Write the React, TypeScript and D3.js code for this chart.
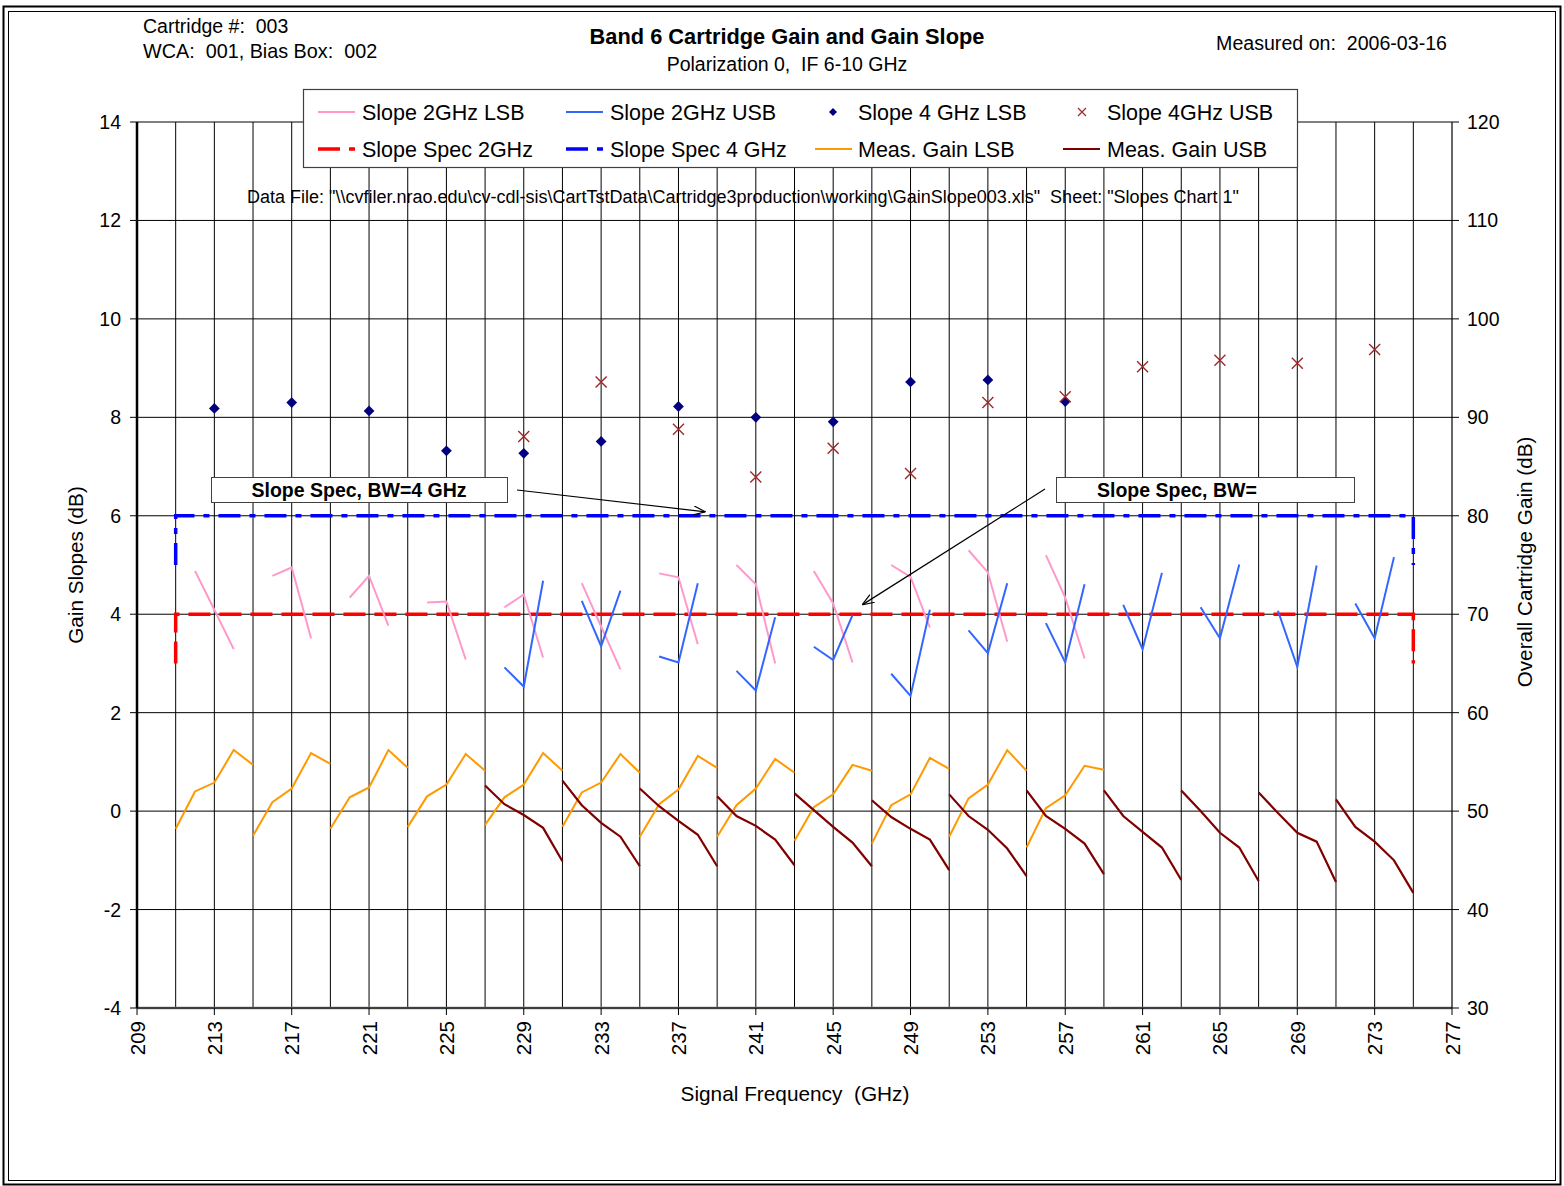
import React from 'react';
import * as d3 from 'd3';

// LO settings (GHz), one measured group per LO
const loFreqs = [221, 225, 229, 233, 237, 241, 245, 249, 253, 257, 261, 265];

// offsets of the plotted points from the LO (GHz)
const gainLsbOffsets = [-10, -9, -8, -7, -6];
const gainUsbOffsets = [6, 7, 8, 9, 10];
const slopeLsbOffsets = [-9, -8, -7];
const slopeUsbOffsets = [7, 8, 9];
const slope4LsbOffset = -8;
const slope4UsbOffset = 8;

// measured gain (dB, right axis)
const gainLsb = [
  [48.2, 52.0, 52.9, 56.2, 54.7],
  [47.5, 50.9, 52.3, 55.9, 54.8],
  [48.2, 51.4, 52.4, 56.2, 54.4],
  [48.4, 51.5, 52.7, 55.8, 54.1],
  [48.6, 51.4, 52.7, 55.9, 54.1],
  [48.4, 51.9, 52.9, 55.8, 53.9],
  [47.4, 50.7, 52.2, 55.6, 54.4],
  [47.4, 50.6, 52.3, 55.3, 53.9],
  [47.0, 50.4, 51.7, 54.7, 54.1],
  [46.7, 50.6, 51.7, 55.4, 54.3],
  [47.4, 51.3, 52.7, 56.2, 54.1],
  [46.3, 50.3, 51.6, 54.6, 54.2],
];
const gainUsb = [
  [52.6, 50.7, 49.6, 48.3, 44.9],
  [53.1, 50.6, 48.8, 47.4, 44.4],
  [52.3, 50.5, 49.0, 47.6, 44.4],
  [51.5, 49.5, 48.5, 47.1, 44.5],
  [51.8, 50.1, 48.4, 46.8, 44.4],
  [51.1, 49.4, 48.2, 47.1, 44.0],
  [51.7, 49.5, 48.1, 46.2, 43.4],
  [52.1, 49.5, 48.2, 46.7, 43.6],
  [52.1, 49.5, 47.9, 46.3, 43.0],
  [52.1, 50.0, 47.8, 46.3, 42.9],
  [51.9, 49.8, 47.8, 46.9, 42.8],
  [51.2, 48.4, 46.9, 45.0, 41.7],
];

// gain slopes (dB, left axis)
const slope2Lsb = [
  [4.88, 4.09, 3.29],
  [4.78, 4.95, 3.51],
  [4.34, 4.78, 3.77],
  [4.24, 4.26, 3.08],
  [4.14, 4.40, 3.12],
  [4.63, 3.75, 2.88],
  [4.83, 4.75, 3.39],
  [5.00, 4.61, 3.00],
  [4.88, 4.22, 3.02],
  [5.00, 4.76, 3.73],
  [5.30, 4.85, 3.44],
  [5.20, 4.34, 3.10],
];
const slope2Usb = [
  [2.92, 2.53, 4.68],
  [4.27, 3.35, 4.48],
  [3.14, 3.02, 4.63],
  [2.85, 2.45, 3.94],
  [3.34, 3.07, 3.98],
  [2.79, 2.34, 4.09],
  [3.67, 3.21, 4.63],
  [3.82, 3.02, 4.61],
  [4.19, 3.29, 4.84],
  [4.14, 3.51, 5.01],
  [4.07, 2.93, 4.99],
  [4.22, 3.51, 5.16],
];
const slope4Lsb = [8.18, 8.30, 8.13, 7.32, 7.27, 7.51, 8.22, 8.00, 7.91, 8.72, 8.76, 8.32];
const slope4Usb = [7.61, 8.72, 7.76, 6.79, 7.37, 6.86, 8.30, 8.42, 9.03, 9.16, 9.10, 9.38];

// spec limits
const specFreqs = [211, 211, 275, 275];
const spec2GHz = [3, 4, 4, 3];
const spec4GHz = [5, 6, 6, 5];

// axes
const xTicks = [209, 213, 217, 221, 225, 229, 233, 237, 241, 245, 249, 253, 257, 261, 265, 269, 273, 277];
const leftTicks = [-4, -2, 0, 2, 4, 6, 8, 10, 12, 14];
const rightTicks = [30, 40, 50, 60, 70, 80, 90, 100, 110, 120];

// annotation arrow tips (freq, slope dB)
const arrowTips = [[238.4, 6.08], [246.5, 4.19]];

const W = 1564;
const H = 1186;
const FONT = '"Liberation Sans", Arial, Helvetica, sans-serif';

const x = d3.scaleLinear().domain([209, 277]).range([137, 1452]);
const yL = d3.scaleLinear().domain([-4, 14]).range([1008, 122]);
const yR = d3.scaleLinear().domain([30, 120]).range([1008, 122]);

const C = {
  pink: '#FF99CC',
  blue: '#3366FF',
  navy: '#000080',
  xred: '#A0282A',
  specRed: '#FF0000',
  specBlue: '#0000FF',
  orange: '#FF9900',
  maroon: '#800000',
};

const diamond = d3.symbol(d3.symbolSquare, 58)();
const diamondSmall = d3.symbol(d3.symbolSquare, 32)();
const xMark = 'M-5.5,-5.5L5.5,5.5M-5.5,5.5L5.5,-5.5';
const xMarkSmall = 'M-4,-4L4,4M-4,4L4,-4';

export default function App() {
  const lineL = d3.line<number[]>().x(d => x(d[0])).y(d => yL(d[1]));
  const lineR = d3.line<number[]>().x(d => x(d[0])).y(d => yR(d[1]));

  const lsbGainSegs = loFreqs.map((lo, i) => gainLsbOffsets.map((o, j) => [lo + o, gainLsb[i][j]]));
  const usbGainSegs = loFreqs.map((lo, i) => gainUsbOffsets.map((o, j) => [lo + o, gainUsb[i][j]]));
  const lsbSlopeSegs = loFreqs.map((lo, i) => slopeLsbOffsets.map((o, j) => [lo + o, slope2Lsb[i][j]]));
  const usbSlopeSegs = loFreqs.map((lo, i) => slopeUsbOffsets.map((o, j) => [lo + o, slope2Usb[i][j]]));
  const spec2 = specFreqs.map((f, i) => [f, spec2GHz[i]]);
  const spec4 = specFreqs.map((f, i) => [f, spec4GHz[i]]);

  const gridX = d3.range(211, 277, 2);
  const pre = { whiteSpace: 'pre' as const };

  const legendItems = [
    { label: 'Slope 2GHz LSB', col: 0, row: 0, kind: 'line', color: C.pink, w: 2 },
    { label: 'Slope 2GHz USB', col: 1, row: 0, kind: 'line', color: C.blue, w: 2 },
    { label: 'Slope 4 GHz LSB', col: 2, row: 0, kind: 'diamond', color: C.navy },
    { label: 'Slope 4GHz USB', col: 3, row: 0, kind: 'x', color: C.xred },
    { label: 'Slope Spec 2GHz', col: 0, row: 1, kind: 'line', color: C.specRed, w: 3.5, dash: '22,9' },
    { label: 'Slope Spec 4 GHz', col: 1, row: 1, kind: 'line', color: C.specBlue, w: 3.5, dash: '22,9,6,9' },
    { label: 'Meas. Gain LSB', col: 2, row: 1, kind: 'line', color: C.orange, w: 2 },
    { label: 'Meas. Gain USB', col: 3, row: 1, kind: 'line', color: C.maroon, w: 2 },
  ];
  const colSample = [318, 566, 815, 1063];
  const colText = [362, 610, 858, 1107];
  const rowY = [112, 149];

  return (
    <div style={{ position: 'absolute', left: 0, top: 0 }}>
      <svg width={W} height={H} style={{ display: 'block', background: '#fff' }} fontFamily={FONT}>
        <defs>
          <marker id="arr" viewBox="0 0 12 10" refX="12" refY="5" markerWidth="12" markerHeight="10"
            markerUnits="userSpaceOnUse" orient="auto">
            <path d="M0,0.5L12,5L0,9.5" fill="none" stroke="#000" strokeWidth={1.2} />
          </marker>
        </defs>
        <rect width={W} height={H} fill="#fff" />

        {/* outer frame */}
        <rect x={3.5} y={6.5} width={1557} height={1178} fill="none" stroke="#000" strokeWidth={2} />
        <rect x={8.5} y={11.5} width={1547} height={1169} fill="none" stroke="#000" strokeWidth={1} />

        {/* header texts */}
        <text x={143} y={33} fontSize={19.5} style={pre}>Cartridge #:  003</text>
        <text x={143} y={58} fontSize={19.8} style={pre}>WCA:  001, Bias Box:  002</text>
        <text x={787} y={44} fontSize={21.8} fontWeight="bold" textAnchor="middle">Band 6 Cartridge Gain and Gain Slope</text>
        <text x={787} y={71} fontSize={19.5} textAnchor="middle" style={pre}>Polarization 0,  IF 6-10 GHz</text>
        <text x={1447} y={50} fontSize={19.6} textAnchor="end" style={pre}>Measured on:  2006-03-16</text>

        {/* data file note (sits under the grid) */}
        <text x={743} y={203} fontSize={18} textAnchor="middle" style={pre}>
          {'Data File: "\\\\cvfiler.nrao.edu\\cv-cdl-sis\\CartTstData\\Cartridge3production\\working\\GainSlope003.xls"  Sheet: "Slopes Chart 1"'}
        </text>

        {/* grid */}
        <g stroke="#000" strokeWidth={1}>
          {gridX.map(f => (
            <line key={'gx' + f} x1={x(f)} x2={x(f)} y1={yL(14)} y2={yL(-4)} />
          ))}
          {leftTicks.filter(v => v > -4).map(v => (
            <line key={'gy' + v} x1={x(209)} x2={x(277)} y1={yL(v)} y2={yL(v)} />
          ))}
        </g>

        {/* axes */}
        <line x1={x(209)} x2={x(277)} y1={yL(-4)} y2={yL(-4)} stroke="#808080" strokeWidth={2.5} />
        <line x1={x(209)} x2={x(277)} y1={yL(-4)} y2={yL(-4)} stroke="#000" strokeWidth={1} />
        <line x1={x(209)} x2={x(209)} y1={yL(14)} y2={yL(-4)} stroke="#000" strokeWidth={2.5} />
        <line x1={x(277)} x2={x(277)} y1={yL(14)} y2={yL(-4)} stroke="#000" strokeWidth={1.2} />
        <g stroke="#000" strokeWidth={1}>
          {leftTicks.map(v => (
            <line key={'lt' + v} x1={x(209) - 7} x2={x(209)} y1={yL(v)} y2={yL(v)} />
          ))}
          {rightTicks.map(v => (
            <line key={'rt' + v} x1={x(277)} x2={x(277) + 7} y1={yR(v)} y2={yR(v)} />
          ))}
          {xTicks.map(f => (
            <line key={'xt' + f} x1={x(f)} x2={x(f)} y1={yL(-4)} y2={yL(-4) + 7} />
          ))}
        </g>

        {/* tick labels */}
        <g fontSize={19.5}>
          {leftTicks.map(v => (
            <text key={'ll' + v} x={121} y={yL(v) + 7} textAnchor="end">{v}</text>
          ))}
          {rightTicks.map(v => (
            <text key={'rl' + v} x={1467} y={yR(v) + 7}>{v}</text>
          ))}
        </g>
        <g fontSize={20.5}>
          {xTicks.map(f => (
            <text key={'xl' + f} transform={`translate(${x(f) + 7.5},1021) rotate(-90)`} textAnchor="end">{f}</text>
          ))}
        </g>

        {/* axis titles */}
        <text transform="translate(83,565) rotate(-90)" fontSize={20.7} textAnchor="middle">Gain Slopes (dB)</text>
        <text transform="translate(1532,562) rotate(-90)" fontSize={20.7} textAnchor="middle">Overall Cartridge Gain (dB)</text>
        <text x={795} y={1101} fontSize={20.8} textAnchor="middle" style={pre}>Signal Frequency  (GHz)</text>

        {/* spec limits */}
        <path d={lineL(spec2) || ''} fill="none" stroke={C.specRed} strokeWidth={3.5} strokeDasharray="22,9" />
        <path d={lineL(spec4) || ''} fill="none" stroke={C.specBlue} strokeWidth={3.5} strokeDasharray="22,9,6,9" />

        {/* measured gain */}
        {lsbGainSegs.map((s, i) => (
          <path key={'gl' + i} d={lineR(s) || ''} fill="none" stroke={C.orange} strokeWidth={2} />
        ))}
        {usbGainSegs.map((s, i) => (
          <path key={'gu' + i} d={lineR(s) || ''} fill="none" stroke={C.maroon} strokeWidth={2.2} />
        ))}

        {/* 2 GHz slopes */}
        {lsbSlopeSegs.map((s, i) => (
          <path key={'sl' + i} d={lineL(s) || ''} fill="none" stroke={C.pink} strokeWidth={2} />
        ))}
        {usbSlopeSegs.map((s, i) => (
          <path key={'su' + i} d={lineL(s) || ''} fill="none" stroke={C.blue} strokeWidth={2} />
        ))}

        {/* 4 GHz slopes */}
        {loFreqs.map((lo, i) => (
          <path key={'d4' + i} d={diamond} fill={C.navy}
            transform={`translate(${x(lo + slope4LsbOffset)},${yL(slope4Lsb[i])}) rotate(45)`} />
        ))}
        {loFreqs.map((lo, i) => (
          <path key={'x4' + i} d={xMark} fill="none" stroke={C.xred} strokeWidth={1.4}
            transform={`translate(${x(lo + slope4UsbOffset)},${yL(slope4Usb[i])})`} />
        ))}

        {/* annotations */}
        <line x1={517} y1={490} x2={x(arrowTips[0][0])} y2={yL(arrowTips[0][1])} stroke="#000" strokeWidth={1.2} markerEnd="url(#arr)" />
        <line x1={1045} y1={489} x2={x(arrowTips[1][0])} y2={yL(arrowTips[1][1])} stroke="#000" strokeWidth={1.2} markerEnd="url(#arr)" />
        <rect x={211.5} y={477.5} width={296} height={25} fill="#fff" stroke="#404040" strokeWidth={1} />
        <text x={359} y={497} fontSize={19.5} fontWeight="bold" textAnchor="middle">Slope Spec, BW=4 GHz</text>
        <rect x={1056.5} y={477.5} width={298} height={25} fill="#fff" stroke="#404040" strokeWidth={1} />
        <text x={1097} y={497} fontSize={19.5} fontWeight="bold">Slope Spec, BW=</text>

        {/* legend */}
        <rect x={303.5} y={89.5} width={994} height={78} fill="#fff" stroke="#404040" strokeWidth={1.2} />
        {legendItems.map(it => {
          const sx = colSample[it.col];
          const cy = rowY[it.row];
          let sample: React.ReactNode = null;
          if (it.kind === 'line') {
            sample = <line x1={sx} x2={sx + 37} y1={cy} y2={cy} stroke={it.color} strokeWidth={it.w} strokeDasharray={it.dash} />;
          } else if (it.kind === 'diamond') {
            sample = <path d={diamondSmall} fill={it.color} transform={`translate(${sx + 18},${cy}) rotate(45)`} />;
          } else {
            sample = <path d={xMarkSmall} stroke={it.color} strokeWidth={1.2} fill="none" transform={`translate(${sx + 19},${cy})`} />;
          }
          return (
            <g key={it.label}>
              {sample}
              <text x={colText[it.col]} y={cy + 7.5} fontSize={21.5}>{it.label}</text>
            </g>
          );
        })}
      </svg>
    </div>
  );
}
